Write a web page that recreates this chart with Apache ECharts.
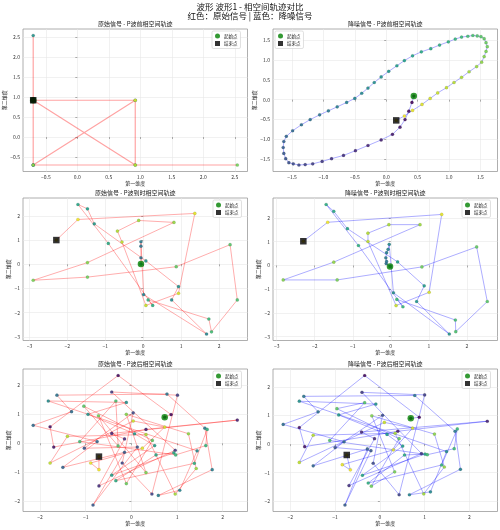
<!DOCTYPE html>
<html>
<head>
<meta charset="utf-8">
<script src="https://cdn.jsdelivr.net/npm/echarts@6/dist/echarts.min.js"></script>
<style>
html,body{margin:0;padding:0;background:#fff;}
#chart{width:500px;height:530px;}
</style>
</head>
<body>
<div id="chart"></div>
<script>
// ---------------- DATA ----------------
const mainTitle = '波形 波形1 - 相空间轨迹对比';
const subTitle = '红色：原始信号 | 蓝色：降噪信号';
const panelTitles = [
  '原始信号 - P波前相空间轨迹', '降噪信号 - P波前相空间轨迹',
  '原始信号 - P波到时相空间轨迹', '降噪信号 - P波到时相空间轨迹',
  '原始信号 - P波后相空间轨迹', '降噪信号 - P波后相空间轨迹'
];
const xName = '第一维度';
const yName = '第二维度';
const startName = '起始点';
const endName = '结束点';

// Panel 1: raw, before P
const p1x = [-0.70,-0.70,-0.70,-0.70,0.92,-0.70,0.92,2.54,-0.70,0.92,0.92,-0.70];
const p1y = [0.92,-0.70,2.54,-0.70,0.92,0.92,-0.70,-0.70,-0.70,-0.70,0.92,0.92];
// Panel 2: denoised, before P
const p2x = [0.44,0.41,0.36,0.30,0.22,0.10,-0.08,-0.29,-0.49,-0.68,-0.87,-1.02,-1.17,-1.29,-1.39,-1.48,-1.55,-1.60,-1.63,-1.64,-1.63,-1.59,-1.49,-1.35,-1.21,-1.06,-0.92,-0.78,-0.63,-0.50,-0.39,-0.29,-0.19,-0.08,0.04,0.17,0.29,0.42,0.56,0.71,0.85,0.99,1.10,1.20,1.30,1.38,1.45,1.51,1.56,1.59,1.61,1.59,1.56,1.52,1.44,1.32,1.20,1.08,0.96,0.82,0.70,0.57,0.42,0.29,0.16];
const p2y = [0.09,-0.07,-0.29,-0.50,-0.69,-0.87,-1.01,-1.15,-1.28,-1.40,-1.48,-1.55,-1.61,-1.63,-1.64,-1.61,-1.58,-1.48,-1.35,-1.20,-1.05,-0.92,-0.78,-0.63,-0.50,-0.38,-0.28,-0.18,-0.07,0.03,0.16,0.29,0.43,0.57,0.71,0.85,0.98,1.10,1.20,1.28,1.37,1.45,1.52,1.57,1.59,1.61,1.60,1.58,1.53,1.43,1.33,1.21,1.08,0.94,0.83,0.70,0.56,0.43,0.30,0.17,0.03,-0.12,-0.27,-0.41,-0.52];
// Panel 3: raw, at P arrival
const p3x = [-0.06,-0.06,-0.06,-0.06,0.01,1.67,0.75,0.93,0.07,-1.29,-1.47,-1.72,-0.92,0.25,0.13,1.73,1.80,2.48,2.29,0.87,-1.47,-2.90,-1.47,0.81,-0.12,-0.68,-0.56,0.07,0.93,1.36,-1.72,-2.29];
const p3y = [0.01,0.27,0.75,0.93,-1.25,-2.88,-1.47,-0.92,0.14,1.67,2.29,2.47,0.86,-1.70,-1.47,-2.26,-2.79,-1.47,0.81,-0.10,-0.53,-0.66,0.07,1.73,1.81,1.37,0.92,-1.70,-1.20,2.10,1.85,1.00];
// Panel 4: denoised, at P arrival
const p4x = [-0.02,-0.12,-0.11,-0.13,-0.11,-0.07,-0.04,0.07,1.54,0.68,0.88,0.18,-1.14,-1.50,-1.70,-0.85,0.32,0.16,1.70,1.71,2.54,2.26,0.82,-1.41,-2.83,-1.50,0.77,-0.05,-0.60,-0.60,0.14,1.01,1.34,-1.66,-2.30];
const p4y = [-0.04,0.08,0.17,0.32,0.54,0.68,0.89,-1.15,-2.89,-1.52,-0.86,0.15,1.55,2.28,2.57,0.84,-1.74,-1.43,-2.30,-2.79,-1.52,0.78,-0.06,-0.61,-0.61,0.14,1.72,1.72,1.36,1.01,-1.69,-1.13,2.15,1.82,1.02];
// Panel 5: raw, after P
const p5x = [0.73,0.87,-0.29,-1.78,-1.70,0.32,2.32,-0.43,-0.15,-0.71,0.96,-0.43,1.01,0.45,-0.20,0.04,-1.03,0.13,-0.84,-0.15,-1.50,-0.75,-2.15,-1.31,-1.63,0.78,1.61,1.77,0.59,1.06,1.44,-1.82,-0.11,-0.95,0.07,0.51,-0.43,0.93,0.54,-0.34,1.38,1.66,1.63,0.97,-1.13,-0.34,-0.29,-1.04,0.46,-0.11,-0.72,0.32,-0.11,1.25,1.42,0.96,0.32,-1.40,-1.78,0.04,0.73,0.24,-0.89,-0.71,-0.71];
const p5y = [0.90,0.99,2.34,0.57,-0.13,0.48,0.80,0.34,0.15,-1.47,-0.24,1.77,1.66,-1.75,-0.68,1.05,-0.17,-0.13,-2.13,-0.31,-0.83,0.06,0.62,1.09,1.66,1.70,0.52,-0.91,-1.80,-1.62,-0.26,1.46,1.41,1.00,0.33,-0.08,-1.10,-0.33,-0.40,-1.29,-0.69,0.48,-0.08,-0.40,0.06,1.46,-0.09,1.28,0.10,-1.39,0.95,-1.01,1.00,0.33,-0.87,-1.75,0.30,0.24,-0.68,0.77,0.56,-0.17,-0.68,-0.91,-0.46];
// Panel 6: denoised, after P
const p6x = [0.69,0.88,-0.34,-1.80,-1.68,0.40,2.40,-0.41,-0.12,-0.69,0.93,-0.40,1.00,0.43,-0.15,0.06,-1.00,-0.20,-0.78,-0.28,-1.49,-0.80,-2.16,-1.38,-1.70,0.78,1.68,1.80,0.66,1.13,1.49,-1.80,-0.09,-0.92,0.16,0.51,-0.39,1.01,0.55,-0.26,1.38,1.73,1.66,1.06,-1.12,-0.34,-0.96,0.43,-0.19,0.33,-0.18,1.22,1.44,0.98,0.34,-1.49,-1.80,0.10,0.73,0.30,-0.84,-0.66,-0.74];
const p6y = [0.90,0.94,2.40,0.58,-0.09,0.45,0.80,0.42,0.19,-1.45,-0.33,1.81,1.72,-1.77,-0.67,1.01,-0.12,-0.23,-2.13,-0.17,-0.76,0.08,0.69,1.13,1.67,1.70,0.45,-0.88,-1.77,-1.67,-0.26,1.50,1.40,1.02,0.34,-0.07,-1.09,-0.35,-0.38,-1.36,-0.73,0.53,-0.16,-0.37,0.13,1.45,1.24,0.19,-1.47,-0.97,0.99,0.35,-0.80,-1.74,0.38,0.31,-0.64,0.76,0.56,-0.20,-0.72,-0.90,-0.38];

// tick labels
const p1Ticks = [-0.5,0,0.5,1,1.5,2,2.5];
const p2Ticks = [-1.5,-1,-0.5,0,0.5,1,1.5];
const p34Ticks = [-3,-2,-1,0,1,2];
const p56Ticks = [-2,-1,0,1,2];

// ---------------- STYLE / LAYOUT ----------------
const FONT = '"Noto Sans CJK SC", "Noto Sans", sans-serif';
const colLeft = [23, 273];
const rowTop = [29, 198, 369];
const W = 224.5, H = 142.5;
const RED = 'rgba(255,0,0,0.36)';
const BLUE = 'rgba(0,0,255,0.36)';
const viridisStops = ['#440154','#482878','#3e4989','#31688e','#26828e','#1f9e89','#35b779','#6ece58','#b5de2b','#fde725'];
function hexToRgb(h){ return [parseInt(h.slice(1,3),16),parseInt(h.slice(3,5),16),parseInt(h.slice(5,7),16)]; }
function viridis(t){
  t = Math.max(0, Math.min(1, t));
  const p = t * (viridisStops.length - 1);
  const i = Math.min(Math.floor(p), viridisStops.length - 2);
  const f = p - i;
  const a = hexToRgb(viridisStops[i]), b = hexToRgb(viridisStops[i+1]);
  const c = a.map((v,k)=>Math.round(v + (b[k]-v)*f));
  return 'rgb(' + c.join(',') + ')';
}

const panels = [
  {x:p1x, y:p1y, ticks:p1Ticks, dec:1, line:RED,  c0:0.4, c1:1.0, legendLeft:212, yGap:15, lw:1.2},
  {x:p2x, y:p2y, ticks:p2Ticks, dec:1, line:BLUE, c0:0.0,  c1:1.0, legendLeft:275, yGap:15, lw:0.9},
  {x:p3x, y:p3y, ticks:p34Ticks, dec:0, line:RED,  c0:0.35, c1:1.0, legendLeft:213, yGap:10, lw:0.9},
  {x:p4x, y:p4y, ticks:p34Ticks, dec:0, line:BLUE, c0:0.35, c1:1.0, legendLeft:462, yGap:10, lw:0.9},
  {x:p5x, y:p5y, ticks:p56Ticks, dec:0, line:RED,  c0:0.0,  c1:1.0, legendLeft:213, yGap:10, lw:0.9},
  {x:p6x, y:p6y, ticks:p56Ticks, dec:0, line:BLUE, c0:0.0,  c1:1.0, legendLeft:462, yGap:10, lw:0.9}
];

function fmt(dec){ return v => (v < 0 ? '\u2212' : '') + Math.abs(v).toFixed(dec); }
function padExtent(arr){
  const mn = Math.min(...arr), mx = Math.max(...arr);
  const m = (mx - mn) * 0.05;
  return [mn - m, mx + m];
}

const grids = [], xAxes = [], yAxes = [], series = [], legends = [], graphics = [];

graphics.push({type:'text', x:250, y:6.5, style:{text:mainTitle, fontSize:8.5, fontFamily:FONT, fill:'#111', align:'center', verticalAlign:'middle'}});
graphics.push({type:'text', x:250, y:15.5, style:{text:subTitle, fontSize:8.5, fontFamily:FONT, fill:'#111', align:'center', verticalAlign:'middle'}});

panels.forEach((p, k) => {
  const col = k % 2, row = Math.floor(k / 2);
  const left = colLeft[col], top = rowTop[row];
  grids.push({left:left, top:top, width:W, height:H, show:true, borderColor:'#9a9a9a', borderWidth:0.8, backgroundColor:'#fff', containLabel:false, outerBoundsMode:'none'});
  const xe = padExtent(p.x), ye = padExtent(p.y);
  const axisCommon = {
    type:'value', gridIndex:k, scale:true,
    axisLine:{show:false},
    axisTick:{show:true, length:2, lineStyle:{color:'#777', width:0.6}, customValues:p.ticks},
    axisLabel:{fontSize:5, color:'#333', margin:3, fontFamily:FONT, formatter:fmt(p.dec), customValues:p.ticks},
    splitLine:{show:true, lineStyle:{color:'#e8e8e8', width:0.6}},
    nameLocation:'middle',
    nameTextStyle:{fontSize:5, color:'#222', fontFamily:FONT}
  };
  xAxes.push(Object.assign({}, axisCommon, {min:xe[0], max:xe[1], name:xName, nameGap: row === 0 ? 8 : 9.5}));
  yAxes.push(Object.assign({}, axisCommon, {min:ye[0], max:ye[1], name:yName, nameGap:p.yGap}));

  graphics.push({type:'text', x:left + W/2, y:top - 5.5, style:{text:panelTitles[k], fontSize:6, fontFamily:FONT, fill:'#222', align:'center', verticalAlign:'middle'}});

  const pts = p.x.map((v,i) => [v, p.y[i]]);
  const n = pts.length;
  series.push({type:'line', xAxisIndex:k, yAxisIndex:k, data:pts, symbol:'none', showSymbol:false,
    lineStyle:{color:p.line, width:p.lw}, z:2, silent:true});
  series.push({type:'scatter', xAxisIndex:k, yAxisIndex:k, z:3, silent:true, symbolSize:3.2,
    data: pts.map((pt,i) => ({value:pt, itemStyle:{color: viridis(p.c0 + (p.c1 - p.c0) * i / (n - 1))}})),
    itemStyle:{opacity:0.9, borderColor:'rgba(0,0,0,0.35)', borderWidth:0.3}});
  series.push({type:'scatter', name:startName, xAxisIndex:k, yAxisIndex:k, z:4, symbol:'circle', symbolSize:6.5,
    data:[pts[0]], itemStyle:{color:'#008000'}});
  series.push({type:'scatter', name:endName, xAxisIndex:k, yAxisIndex:k, z:5, symbol:'rect', symbolSize:6.5,
    data:[pts[n-1]], itemStyle:{color:'#000'}});

  legends.push({
    left:p.legendLeft, top:top + 2, orient:'vertical', selectedMode:false,
    data:[{name:startName, icon:'circle'}, {name:endName, icon:'rect'}],
    itemWidth:5, itemHeight:5, itemGap:2.5,
    padding:[2.5,3,2.5,3], borderColor:'#cccccc', borderWidth:0.6, borderRadius:1.5,
    backgroundColor:'rgba(255,255,255,0.85)',
    textStyle:{fontSize:4.5, color:'#222', fontFamily:FONT, padding:[0,0,0,-1]}
  });
});

const chart = echarts.init(document.getElementById('chart'), null, {renderer:'canvas'});
chart.setOption({
  animation:false,
  backgroundColor:'#fff',
  textStyle:{fontFamily:FONT},
  grid:grids, xAxis:xAxes, yAxis:yAxes, series:series, legend:legends,
  graphic:graphics
});
</script>
</body>
</html>
